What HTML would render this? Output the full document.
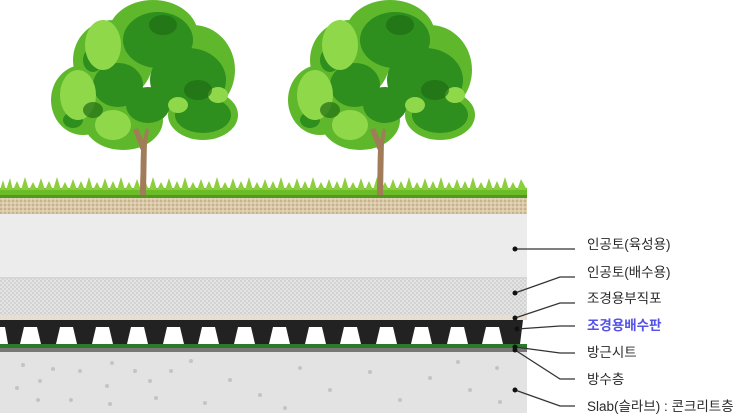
<!DOCTYPE html>
<html><head><meta charset="utf-8"><style>
body{margin:0;background:#fff;width:745px;height:416px;overflow:hidden}
svg{display:block}
text{font-family:"Liberation Sans","Noto Sans CJK KR",sans-serif;font-size:13.5px;fill:#2a2a2a}
</style></head><body>
<svg width="745" height="416" viewBox="0 0 745 416">
<defs>
<pattern id="sand" width="4" height="4" patternUnits="userSpaceOnUse"><rect width="4" height="4" fill="#d9c9a8"/><circle cx="1" cy="1" r="0.9" fill="#b8a27c"/><circle cx="3" cy="3" r="0.7" fill="#efe4cc"/></pattern>
<pattern id="hatch" width="4" height="4" patternUnits="userSpaceOnUse"><rect width="4" height="4" fill="#e4e4e4"/><circle cx="1" cy="1" r="0.9" fill="#c4c4c4"/><circle cx="3" cy="3" r="0.9" fill="#c8c8c8"/></pattern>
<g id="tree">
<path d="M-3 195 L-2 150 L-20 120 L-30 95 L-25 95 L-10 125 L-4 110 L-12 80 L-7 80 L0 112 L10 85 L14 86 L3 125 L25 100 L29 102 L4 138 L3 195 Z" fill="#a07c58"/>
<g fill="#5fb82c">
<ellipse cx="-60" cy="100" rx="32" ry="35"/><ellipse cx="-30" cy="60" rx="40" ry="40"/><ellipse cx="10" cy="35" rx="45" ry="35"/>
<ellipse cx="50" cy="70" rx="42" ry="45"/><ellipse cx="60" cy="115" rx="35" ry="25"/><ellipse cx="-20" cy="120" rx="40" ry="30"/>
</g>
<g fill="#2e8e1e">
<ellipse cx="15" cy="40" rx="35" ry="28"/><ellipse cx="45" cy="80" rx="38" ry="32"/><ellipse cx="-25" cy="85" rx="25" ry="22"/>
<ellipse cx="60" cy="115" rx="28" ry="18"/><ellipse cx="5" cy="105" rx="22" ry="18"/>
<ellipse cx="-50" cy="60" rx="10" ry="12"/><ellipse cx="-70" cy="120" rx="10" ry="8"/>
</g>
<g fill="#8fd84a">
<ellipse cx="-65" cy="95" rx="18" ry="25"/><ellipse cx="-40" cy="45" rx="18" ry="25"/><ellipse cx="-30" cy="125" rx="18" ry="15"/>
<ellipse cx="35" cy="105" rx="10" ry="8"/><ellipse cx="75" cy="95" rx="10" ry="8"/>
</g>
<g fill="#1f6e14" opacity="0.7">
<ellipse cx="20" cy="25" rx="14" ry="10"/><ellipse cx="55" cy="90" rx="14" ry="10"/><ellipse cx="-50" cy="110" rx="10" ry="8"/>
</g>
<path d="M-3 195 L-2 150 L-10 130 L-5 128 L0 140 L3 128 L6 130 L3 150 L3 195 Z" fill="#a07c58"/>
</g>
</defs>
<rect x="0" y="198" width="527" height="16" fill="url(#sand)"/>
<rect x="0" y="214" width="527" height="63" fill="#ececec"/>
<rect x="0" y="277" width="527" height="2" fill="#d6d6d6"/>
<rect x="0" y="279" width="527" height="37" fill="url(#hatch)"/>
<rect x="0" y="315" width="527" height="5" fill="#e6ded2"/>
<rect x="0" y="320" width="527" height="24" fill="#222"/>
<g fill="#fff">
<polygon points="-5,327 5,327 8,344 -8,344"/>
<polygon points="24,327 37,327 41,344 20,344"/>
<polygon points="60,327 73,327 77,344 56,344"/>
<polygon points="96,327 109,327 113,344 92,344"/>
<polygon points="131,327 144,327 148,344 127,344"/>
<polygon points="167,327 180,327 184,344 163,344"/>
<polygon points="202,327 215,327 219,344 198,344"/>
<polygon points="238,327 251,327 255,344 234,344"/>
<polygon points="273,327 286,327 290,344 269,344"/>
<polygon points="309,327 322,327 326,344 305,344"/>
<polygon points="344,327 357,327 361,344 340,344"/>
<polygon points="380,327 393,327 397,344 376,344"/>
<polygon points="415,327 428,327 432,344 411,344"/>
<polygon points="451,327 464,327 468,344 447,344"/>
<polygon points="486,327 499,327 503,344 482,344"/>
<polygon points="523,320 530,320 530,344 520,344"/>
</g>
<rect x="0" y="344" width="527" height="4" fill="#2a7a2a"/>
<rect x="0" y="348" width="527" height="4" fill="#777"/>
<rect x="0" y="352" width="527" height="61" fill="#e3e3e3"/>
<g fill="#c4c4c4">
<circle cx="23" cy="365" r="2"/><circle cx="53" cy="369" r="2"/><circle cx="80" cy="371" r="2"/><circle cx="40" cy="381" r="2"/><circle cx="17" cy="388" r="2"/><circle cx="38" cy="400" r="2"/><circle cx="71" cy="400" r="2"/><circle cx="112" cy="363" r="2"/><circle cx="135" cy="371" r="2"/><circle cx="107" cy="386" r="2"/><circle cx="150" cy="381" r="2"/><circle cx="110" cy="404" r="2"/><circle cx="156" cy="398" r="2"/><circle cx="171" cy="371" r="2"/><circle cx="191" cy="361" r="2"/><circle cx="230" cy="380" r="2"/><circle cx="260" cy="395" r="2"/><circle cx="300" cy="368" r="2"/><circle cx="330" cy="390" r="2"/><circle cx="370" cy="372" r="2"/><circle cx="400" cy="400" r="2"/><circle cx="430" cy="378" r="2"/><circle cx="470" cy="390" r="2"/><circle cx="500" cy="402" r="2"/><circle cx="458" cy="362" r="2"/><circle cx="497" cy="368" r="2"/><circle cx="205" cy="403" r="2"/><circle cx="285" cy="408" r="2"/>
</g>
<!-- grass -->
<rect x="0" y="188" width="527" height="10" fill="#6cbc2a"/>
<path d="M0 190 L3 180 L6 190 L10 178 L13 190 L17 181 L21 190 L25 177 L29 190 L33 182 L37 190 L41 178 L45 190 L49 181 L53 190 L57 177 L61 190 L65 182 L69 190 L73 179 L77 190 L81 181 L85 190 L89 177 L93 190 L97 182 L101 190 L105 178 L109 190 L113 181 L117 190 L121 177 L125 190 L129 182 L133 190 L137 179 L141 190 L145 181 L149 190 L153 177 L157 190 L161 182 L165 190 L169 178 L173 190 L177 181 L181 190 L185 177 L189 190 L193 182 L197 190 L201 179 L205 190 L209 181 L213 190 L217 177 L221 190 L225 182 L229 190 L233 178 L237 190 L241 181 L245 190 L249 177 L253 190 L257 182 L261 190 L265 179 L269 190 L273 181 L277 190 L281 177 L285 190 L289 182 L293 190 L297 178 L301 190 L305 181 L309 190 L313 177 L317 190 L321 182 L325 190 L329 179 L333 190 L337 181 L341 190 L345 177 L349 190 L353 182 L357 190 L361 178 L365 190 L369 181 L373 190 L377 177 L381 190 L385 182 L389 190 L393 179 L397 190 L401 181 L405 190 L409 177 L413 190 L417 182 L421 190 L425 178 L429 190 L433 181 L437 190 L441 177 L445 190 L449 182 L453 190 L457 179 L461 190 L465 181 L469 190 L473 177 L477 190 L481 182 L485 190 L489 178 L493 190 L497 181 L501 190 L505 177 L509 190 L513 182 L517 190 L521 179 L527 190 Z" fill="#8ccf3c"/>
<rect x="0" y="195" width="527" height="3" fill="#4f9a1e"/>
<use href="#tree" x="143" y="0"/>
<use href="#tree" x="380" y="0"/>
<!-- leaders -->
<g stroke="#333" stroke-width="1.3" fill="none">
<polyline points="515,249 575,249"/>
<polyline points="515,293 560,277 575,277"/>
<polyline points="515,318 560,303 575,303"/>
<polyline points="517,329 560,326 575,326"/>
<polyline points="515,347 560,353 575,353"/>
<polyline points="515,350 560,379 575,379"/>
<polyline points="515,390 560,406 575,406"/>
</g>
<g fill="#111">
<circle cx="515" cy="249" r="2.5"/><circle cx="515" cy="293" r="2.5"/><circle cx="515" cy="318" r="2.5"/><circle cx="517" cy="329" r="2.5"/><circle cx="515" cy="347" r="2.5"/><circle cx="515" cy="350" r="2.5"/><circle cx="515" cy="390" r="2.5"/>
</g>
<text x="587" y="249">인공토(육성용)</text>
<text x="587" y="277">인공토(배수용)</text>
<text x="587" y="303">조경용부직포</text>
<text x="587" y="330" style="fill:#5552e8;font-weight:bold">조경용배수판</text>
<text x="587" y="357">방근시트</text>
<text x="587" y="384">방수층</text>
<text x="587" y="411">Slab(슬라브) : 콘크리트층</text>
</svg>
</body></html>
